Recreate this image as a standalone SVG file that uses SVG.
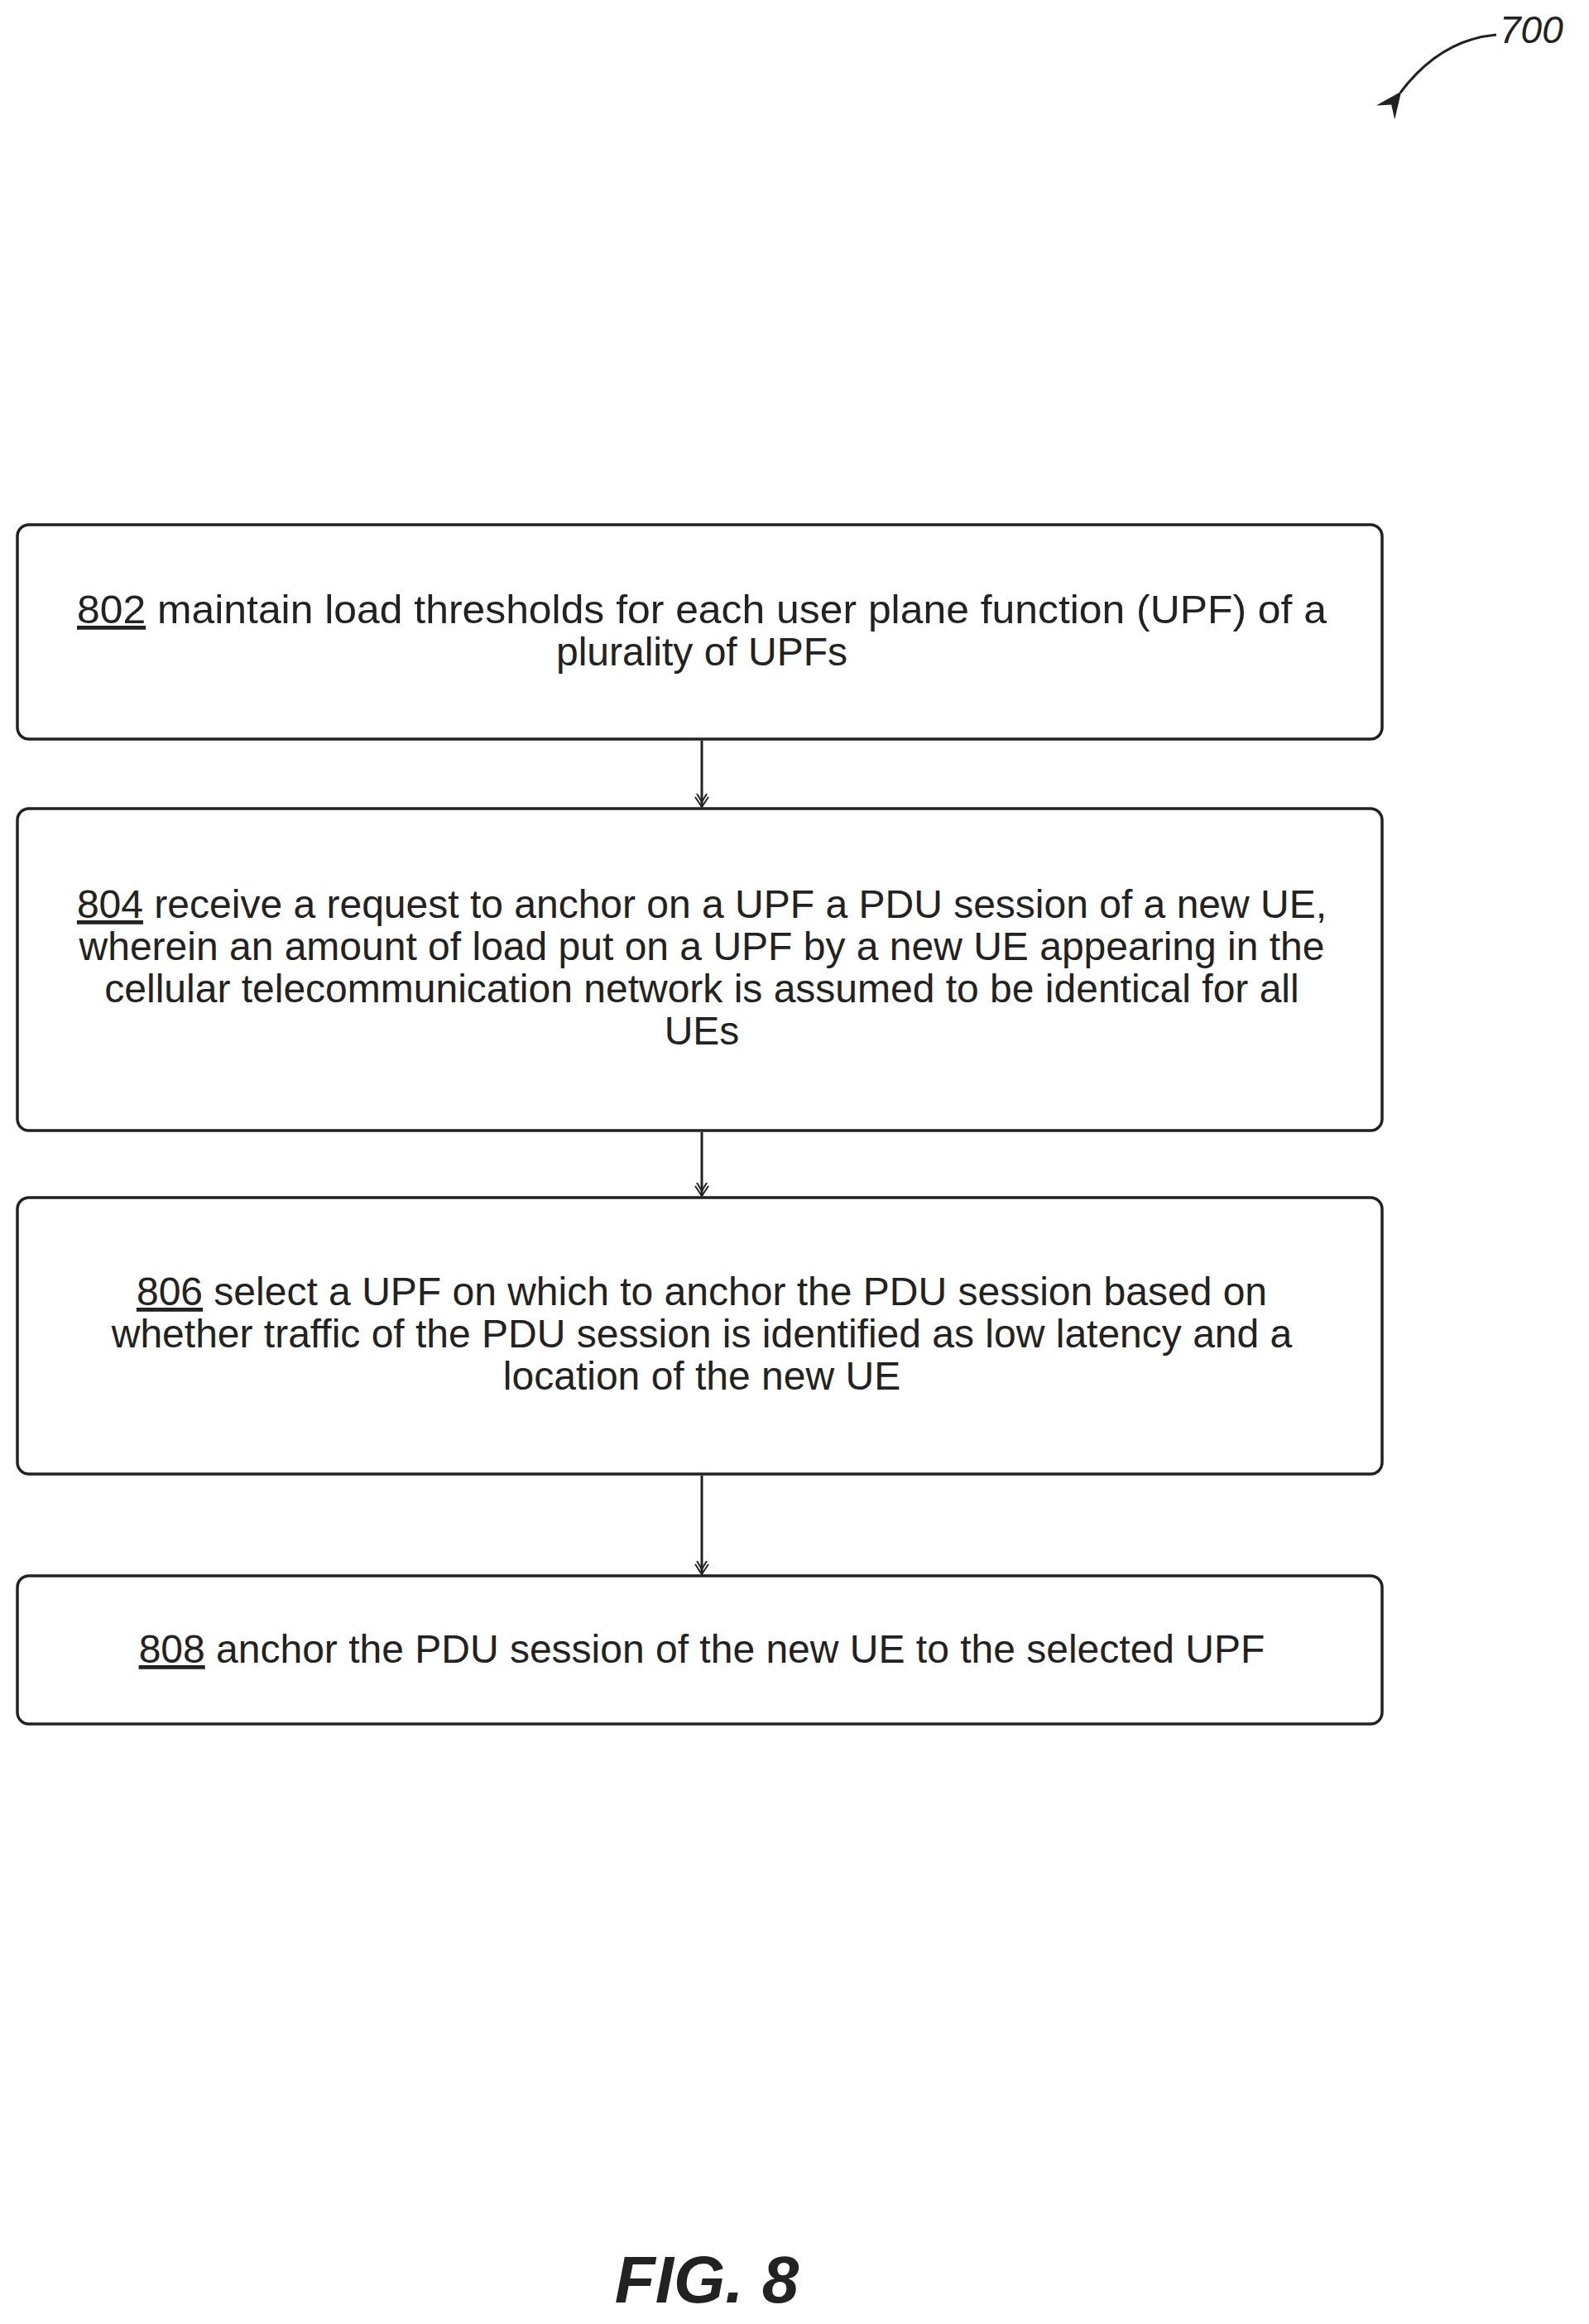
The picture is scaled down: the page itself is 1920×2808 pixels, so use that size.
<svg xmlns="http://www.w3.org/2000/svg" width="1920" height="2808" viewBox="0 0 1920 2808">
<style>
.box{fill:#fff;stroke:#222;stroke-width:3.5}
.t{font-family:"Liberation Sans",Arial,sans-serif;font-size:48px;fill:#222;text-anchor:middle}
.c{stroke:#222;stroke-width:3;fill:none}
</style>
<defs><marker id="a" markerWidth="20" markerHeight="20" refX="10" refY="16" orient="0" markerUnits="userSpaceOnUse"><path d="M2,4 L10,16 L18,4 M4,0 L10,10 L16,0" fill="none" stroke="#222" stroke-width="2"/></marker>
<marker id="b" markerWidth="40" markerHeight="40" refX="4" refY="20" orient="auto" markerUnits="userSpaceOnUse"><path d="M34,6 L2,20 L34,34 L22,20 Z" fill="#222"/></marker></defs>
<rect width="1920" height="2808" fill="#fff"/>
<g id="ref700">
<text x="1812" y="52" font-family="Liberation Sans,Arial,sans-serif" font-size="46" font-style="italic" fill="#222">700</text>
<path d="M1808,42 Q1740,48 1692,112" class="c" marker-end="url(#b)"/>
</g>
<g id="connectors">
<line x1="848" y1="895" x2="848" y2="975" class="c" marker-end="url(#a)"/>
<line x1="848" y1="1368" x2="848" y2="1445" class="c" marker-end="url(#a)"/>
<line x1="848" y1="1783" x2="848" y2="1902" class="c" marker-end="url(#a)"/>
</g>
<g id="n802"><rect x="21" y="634" width="1649" height="259" rx="14" class="box"/>
<text class="t" x="848" y="753" textLength="1510" lengthAdjust="spacingAndGlyphs"><tspan text-decoration="underline">802</tspan> maintain load thresholds for each user plane function (UPF) of a</text>
<text class="t" x="848" y="804">plurality of UPFs</text></g>
<g id="n804"><rect x="21" y="977" width="1649" height="389" rx="14" class="box"/>
<text class="t" x="848" y="1109"><tspan text-decoration="underline">804</tspan> receive a request to anchor on a UPF a PDU session of a new UE,</text>
<text class="t" x="848" y="1160">wherein an amount of load put on a UPF by a new UE appearing in the</text>
<text class="t" x="848" y="1211">cellular telecommunication network is assumed to be identical for all</text>
<text class="t" x="848" y="1262">UEs</text></g>
<g id="n806"><rect x="21" y="1447" width="1649" height="334" rx="14" class="box"/>
<text class="t" x="848" y="1577"><tspan text-decoration="underline">806</tspan> select a UPF on which to anchor the PDU session based on</text>
<text class="t" x="848" y="1628">whether traffic of the PDU session is identified as low latency and a</text>
<text class="t" x="848" y="1679">location of the new UE</text></g>
<g id="n808"><rect x="21" y="1904" width="1649" height="179" rx="14" class="box"/>
<text class="t" x="848" y="2009"><tspan text-decoration="underline">808</tspan> anchor the PDU session of the new UE to the selected UPF</text></g>
<text x="854" y="2782" font-family="Liberation Sans,Arial,sans-serif" font-size="80" font-weight="bold" font-style="italic" text-anchor="middle" fill="#222">FIG. 8</text>
</svg>
